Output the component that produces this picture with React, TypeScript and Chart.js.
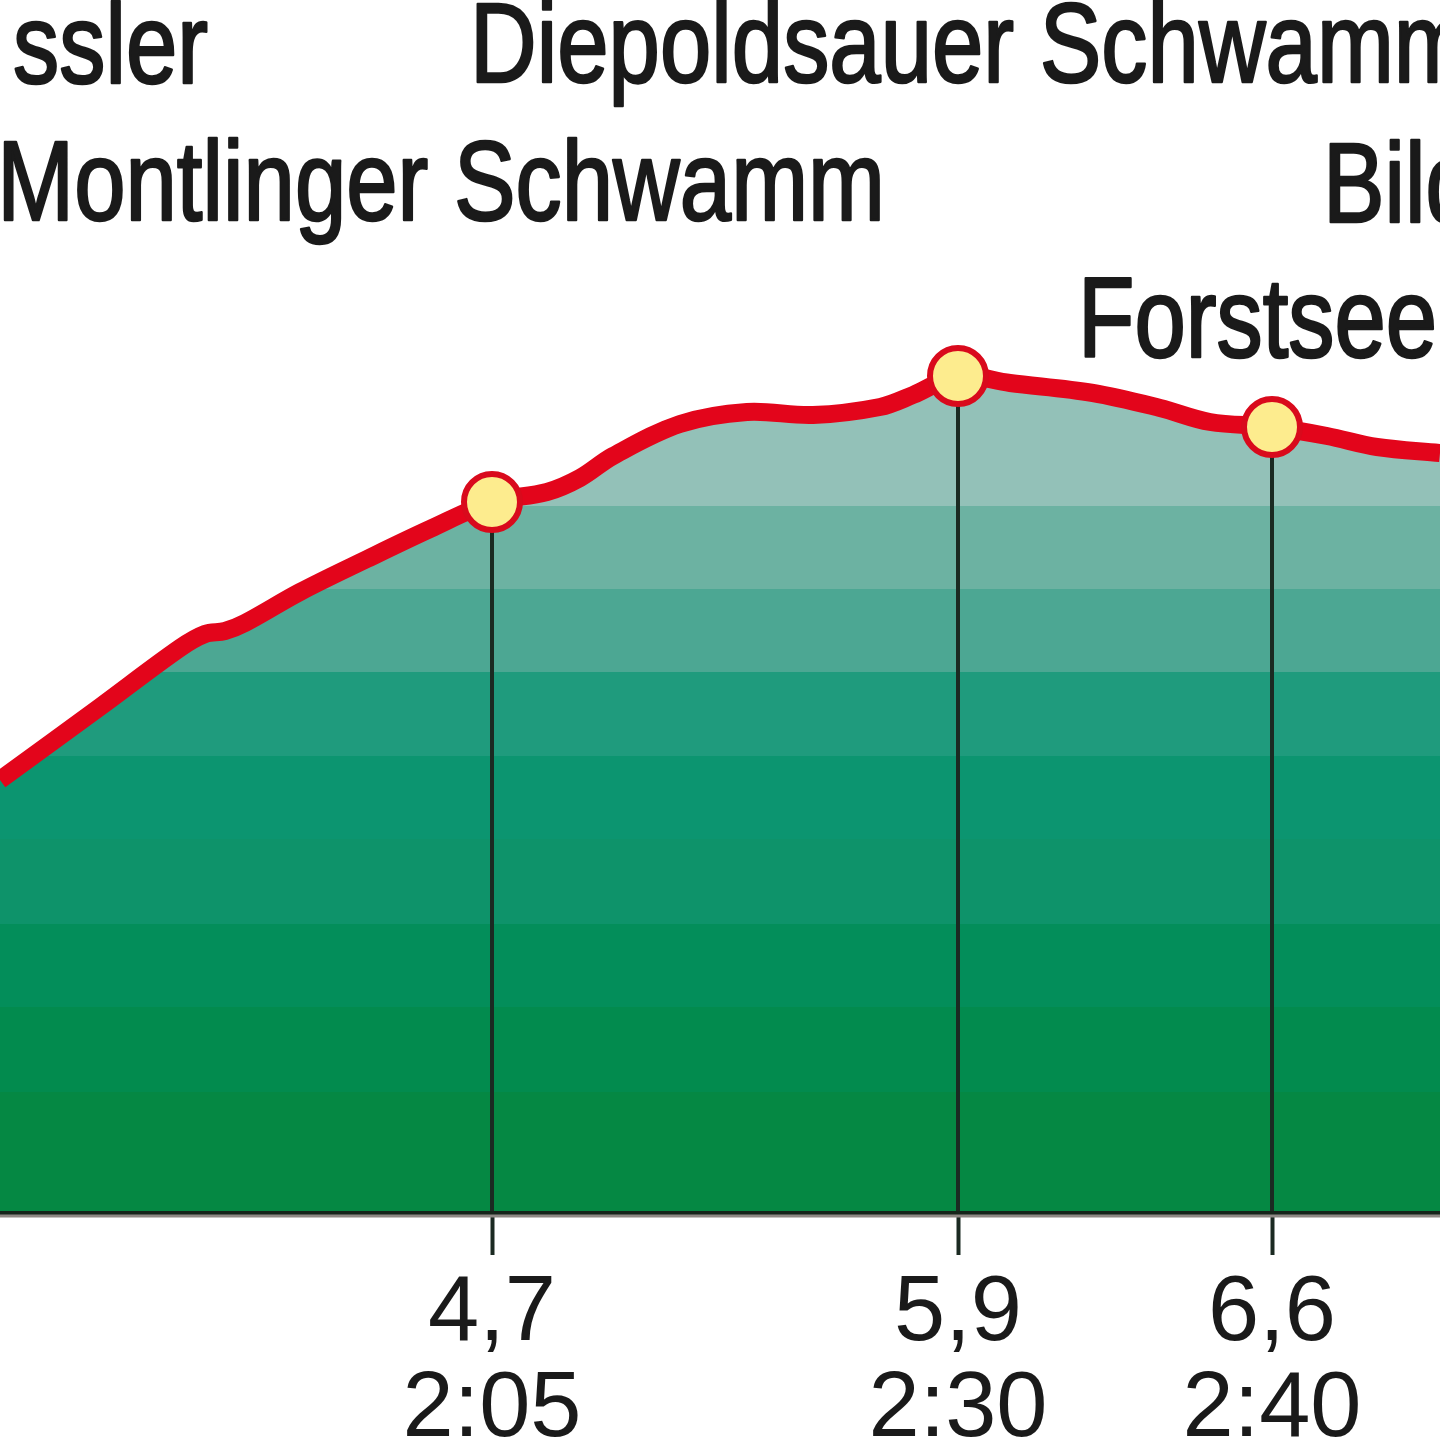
import { useEffect, useRef } from "react";
import { Chart, registerables } from "chart.js";

Chart.register(...registerables);

// Profile: position along the drawn route (abstract units) and height above the base line
const profilePos = [0, 100, 180, 205, 225, 245, 300, 367, 430, 492, 547, 580, 613, 680, 747, 813, 880, 913, 958, 1010, 1093, 1160, 1210, 1272, 1327, 1377, 1440];
const profileElev = [431, 504, 563, 577, 580, 588, 619, 652, 682, 709, 719, 733, 755, 787, 799, 796, 804, 816, 835, 828, 818, 803, 789, 784, 775, 764, 758];

// Waypoints with km / time labels
const stopPos = [492, 958, 1272];
const stopElev = [709, 835, 784];
const stopKm = ["4,7", "5,9", "6,6"];
const stopTime = ["2:05", "2:30", "2:40"];

// Place names
const placeNames = ["ssler", "Diepoldsauer Schwamm", "Montlinger Schwamm", "Bild", "Forstsee"];

// Colour bands of the area fill (height edges, top to bottom) and their colours
const bandEdges = [705, 622, 539, 455, 372, 287, 204, 119];
const bandColors = ["#93c1b8", "#6cb2a2", "#4ca793", "#1f9b7d", "#0c9570", "#0e936a", "#038e5a", "#028b4e", "#058843"];

const CHART_H = 1440;
const AXIS_H = 229;
const NAME_FONT = 114;
const NAME_SCALE = 0.81;
// name placement: [x pixel, baseline, align]
const namePlace: [number, number, CanvasTextAlign][] = [
  [208, 83, "right"],
  [470, 82, "left"],
  [885, 220, "right"],
  [1323, 222, "left"],
  [1078, 357, "left"],
];

export default function App() {
  const ref = useRef<HTMLCanvasElement | null>(null);

  useEffect(() => {
    document.body.style.margin = "0";
    const canvas = ref.current;
    if (!canvas) return;

    const namesPlugin = {
      id: "placeNames",
      afterDraw(chart: any) {
        const ctx = chart.ctx as CanvasRenderingContext2D;
        ctx.save();
        ctx.fillStyle = "#1a1a1a";
        ctx.strokeStyle = "#1a1a1a";
        ctx.lineWidth = 2.6;
        ctx.lineJoin = "round";
        ctx.font = `${NAME_FONT}px "Liberation Sans", Arial, sans-serif`;
        ctx.textBaseline = "alphabetic";
        placeNames.forEach((name, i) => {
          const [x, y, align] = namePlace[i];
          ctx.save();
          ctx.translate(x, y);
          ctx.scale(NAME_SCALE, 1);
          ctx.textAlign = align;
          ctx.fillText(name, 0, 0);
          ctx.strokeText(name, 0, 0);
          ctx.restore();
        });
        // thin grey shadow line under the base line
        const area = chart.chartArea;
        ctx.fillStyle = "#8e8884";
        ctx.fillRect(0, area.bottom + 3.5, chart.width, 3);
        ctx.restore();
      },
    };

    const bandFill = (context: any) => {
      const chart = context.chart;
      const area = chart.chartArea;
      if (!area) return bandColors[bandColors.length - 1];
      const ys = chart.scales.y;
      const g = chart.ctx.createLinearGradient(0, area.top, 0, area.bottom);
      const h = area.bottom - area.top;
      g.addColorStop(0, bandColors[0]);
      bandEdges.forEach((e, i) => {
        const f = Math.min(1, Math.max(0, (ys.getPixelForValue(e) - area.top) / h));
        g.addColorStop(f, bandColors[i]);
        g.addColorStop(f, bandColors[i + 1]);
      });
      g.addColorStop(1, bandColors[bandColors.length - 1]);
      return g;
    };

    const dropLines = stopPos.map((p, i) => ({
      type: "line" as const,
      data: [
        { x: p, y: 0 },
        { x: p, y: stopElev[i] },
      ],
      borderColor: "#1b2a22",
      borderWidth: 4,
      pointRadius: 0,
      fill: false,
      order: 2,
    }));

    const chart = new Chart(canvas, {
      type: "line",
      data: {
        datasets: [
          {
            data: stopPos.map((p, i) => ({ x: p, y: stopElev[i] })),
            showLine: false,
            pointRadius: 28,
            pointBorderWidth: 6,
            pointBackgroundColor: "#fdec8e",
            pointBorderColor: "#d90a1c",
            order: 0,
          },
          {
            data: profilePos.map((p, i) => ({ x: p, y: profileElev[i] })),
            borderColor: "#e3051b",
            borderWidth: 18,
            pointRadius: 0,
            tension: 0.35,
            fill: "start",
            backgroundColor: bandFill,
            order: 1,
          },
          ...dropLines,
        ],
      },
      options: {
        responsive: false,
        animation: false,
        events: [],
        layout: { padding: 0, autoPadding: false },
        plugins: {
          legend: { display: false },
          tooltip: { enabled: false },
          filler: { drawTime: "beforeDatasetsDraw" },
        },
        scales: {
          x: {
            type: "linear",
            min: 0,
            max: 1440,
            position: "bottom",
            afterBuildTicks: (scale: any) => {
              scale.ticks = stopPos.map((v) => ({ value: v }));
            },
            afterFit: (scale: any) => {
              scale.height = AXIS_H;
              scale.paddingLeft = 0;
              scale.paddingRight = 0;
            },
            grid: {
              drawOnChartArea: false,
              drawTicks: true,
              tickLength: 44,
              tickWidth: 4,
              tickColor: "#1b2a22",
            },
            border: { display: true, color: "#15241a", width: 7 },
            ticks: {
              autoSkip: false,
              maxRotation: 0,
              padding: 12,
              color: "#1a1a1a",
              font: { family: '"Liberation Sans", Arial, sans-serif', size: 92, lineHeight: 1.04 },
              callback: (v: any) => {
                const i = stopPos.indexOf(Number(v));
                return i >= 0 ? [stopKm[i], stopTime[i]] : "";
              },
            },
          },
          y: {
            type: "linear",
            display: false,
            min: 0,
            max: CHART_H - AXIS_H,
          },
        },
      },
      plugins: [namesPlugin],
    });

    return () => chart.destroy();
  }, []);

  return (
    <div style={{ position: "fixed", left: 0, top: 0, width: 1440, height: CHART_H, background: "#fff" }}>
      <canvas ref={ref} width={1440} height={CHART_H} style={{ display: "block" }} />
    </div>
  );
}
